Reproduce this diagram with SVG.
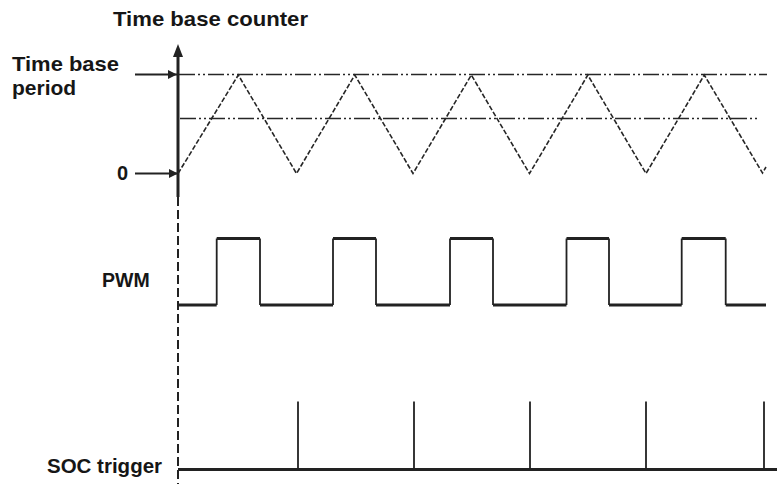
<svg xmlns="http://www.w3.org/2000/svg" width="777" height="484" viewBox="0 0 777 484">
<style>
  .lbl { font-family: "Liberation Sans", Arial, sans-serif; font-weight: bold; fill: #161616; }
  .ln { stroke: #222; fill: none; }
  .dd { stroke: #262626; stroke-width: 1.6; fill: none; stroke-dasharray: 16 3 2 3 2 3; }
  .tri { stroke: #262626; stroke-width: 1.6; fill: none; stroke-dasharray: 5 2; }
  .hz { stroke: #222; stroke-width: 3; fill: none; }
  .vt { stroke: #222; stroke-width: 1.8; fill: none; }
</style>
<defs>
  <marker id="ah" viewBox="0 0 10 10" refX="10" refY="5" markerWidth="10" markerHeight="9" markerUnits="userSpaceOnUse" orient="auto">
    <path d="M0,0 L10,5 L0,10 z" fill="#222"/>
  </marker>
</defs>
<rect width="777" height="484" fill="#fff"/>

<g id="labels">
  <text class="lbl" x="113" y="26" font-size="21" textLength="195" lengthAdjust="spacingAndGlyphs">Time base counter</text>
  <text class="lbl" x="12" y="71" font-size="21" textLength="107" lengthAdjust="spacingAndGlyphs">Time base</text>
  <text class="lbl" x="12" y="95" font-size="21">period</text>
  <text class="lbl" x="117" y="180" font-size="20">0</text>
  <text class="lbl" x="102" y="287" font-size="19.5">PWM</text>
  <text class="lbl" x="47" y="473" font-size="20.5">SOC trigger</text>
</g>

<g id="axis">
  <line class="ln" x1="178" y1="197" x2="178" y2="55" stroke-width="3"/>
  <path d="M178,44 L173,57 L183,57 z" fill="#222"/>
  <line class="ln" x1="178" y1="197" x2="178" y2="484" stroke-width="2" stroke-dasharray="9 4"/>
</g>

<g id="levels">
  <line class="dd" x1="179" y1="74.5" x2="767" y2="74.5"/>
  <line class="dd" x1="180" y1="118.5" x2="758" y2="118.5"/>
</g>

<g id="connectors">
  <line class="ln" x1="135" y1="74.5" x2="177" y2="74.5" stroke-width="2" marker-end="url(#ah)"/>
  <line class="ln" x1="135" y1="173.5" x2="178" y2="173.5" stroke-width="2" marker-end="url(#ah)"/>
</g>

<g id="counter">
  <polyline class="tri" points="178,173.5 238.3,75 296.5,173.5 354.8,75 413,173.5 471.3,75 529.5,173.5 587.8,75 646,173.5 704.3,75 762.5,173 766,167"/>
</g>

<g id="pwm">
  <path class="vt" d="M216.7,305 V238.5 M260,238.5 V305 M333,305 V238.5 M376,238.5 V305 M450,305 V238.5 M493,238.5 V305 M566.5,305 V238.5 M609,238.5 V305 M681.7,305 V238.5 M725.7,238.5 V305"/>
  <path class="hz" d="M178,305 H216.7 M216.7,238.5 H260 M260,305 H333 M333,238.5 H376 M376,305 H450 M450,238.5 H493 M493,305 H566.5 M566.5,238.5 H609 M609,305 H681.7 M681.7,238.5 H725.7 M725.7,305 H766"/>
</g>

<g id="soc">
  <line class="hz" x1="178" y1="469.5" x2="777" y2="469.5"/>
  <path class="vt" d="M298,469 V401.5 M414,469 V401.5 M530,469 V401.5 M646,469 V401.5 M764,469 V401.5"/>
</g>
</svg>
